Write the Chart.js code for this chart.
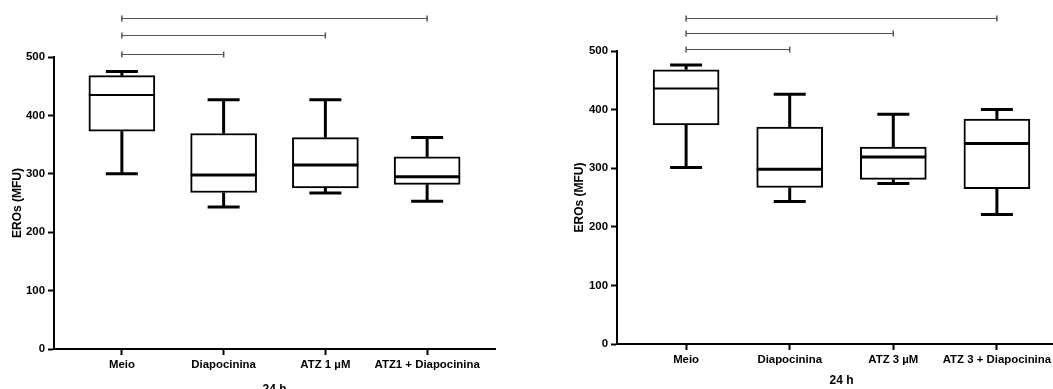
<!DOCTYPE html>
<html>
<head>
<meta charset="utf-8">
<script src="https://cdn.jsdelivr.net/npm/chart.js@4"></script>
<style>
    html, body { margin: 0; padding: 0; background: #fff; overflow: hidden; width: 1053px; height: 389px; }
    canvas { position: absolute; top: 0; }
    #graficoA { left: 0; }
    #graficoB { left: 530px; }
</style>
</head>
<body>
<canvas id="graficoA" width="530" height="400"></canvas>
<canvas id="graficoB" width="540" height="389"></canvas>
<script>
// painel esquerdo (ATZ 1 µM)
const categoriasA = ['Meio', 'Diapocinina', 'ATZ 1 µM', 'ATZ1 + Diapocinina'];
const minA = [300, 243, 267, 253];
const q1A = [373, 268, 276, 282];
const medianaA = [435, 298, 315, 295];
const q3A = [468, 369, 362, 329];
const maxA = [475, 427, 427, 362];
const comparacoesA = [[0, 1], [0, 2], [0, 3]];
const alturasA = [505, 537, 567];

// painel direito (ATZ 3 µM)
const categoriasB = ['Meio', 'Diapocinina', 'ATZ 3 µM', 'ATZ 3 + Diapocinina'];
const minB = [301, 243, 274, 221];
const q1B = [374, 267, 281, 265];
const medianaB = [436, 298, 319, 342];
const q3B = [468, 370, 336, 384];
const maxB = [476, 426, 392, 400];
const comparacoesB = [[0, 1], [0, 2], [0, 3]];
const alturasB = [503, 531, 556];

const ticksY = [0, 100, 200, 300, 400, 500];
const tituloY = 'EROs (MFU)';
const tituloX = '24 h';

const fonte = { family: "'Liberation Sans', Arial, sans-serif", size: 11.4, weight: 'bold' };
const fonteTitulo = { family: "'Liberation Sans', Arial, sans-serif", size: 12, weight: 'bold' };

function linha(ctx, x1, y1, x2, y2) {
    ctx.beginPath();
    ctx.moveTo(x1, y1);
    ctx.lineTo(x2, y2);
    ctx.stroke();
}

// bigodes, medianas e barras de comparação, desenhados com as escalas do gráfico
function pluginCaixas(min, mediana, max, q1, q3, comparacoes, alturas) {
    return {
        id: 'caixas',
        afterDatasetsDraw(chart) {
            const ctx = chart.ctx;
            const x = chart.scales.x;
            const y = chart.scales.y;
            ctx.save();
            ctx.strokeStyle = '#000';
            for (let i = 0; i < mediana.length; i++) {
                const cx = x.getPixelForValue(i);
                ctx.lineWidth = 3;
                linha(ctx, cx, y.getPixelForValue(max[i]), cx, y.getPixelForValue(q3[i]));
                linha(ctx, cx - 16, y.getPixelForValue(max[i]), cx + 16, y.getPixelForValue(max[i]));
                linha(ctx, cx, y.getPixelForValue(q1[i]), cx, y.getPixelForValue(min[i]));
                linha(ctx, cx - 16, y.getPixelForValue(min[i]), cx + 16, y.getPixelForValue(min[i]));
                ctx.lineWidth = i === 0 ? 2 : 3;
                linha(ctx, cx - 33, y.getPixelForValue(mediana[i]), cx + 33, y.getPixelForValue(mediana[i]));
            }
            ctx.strokeStyle = '#555';
            ctx.lineWidth = 1;
            comparacoes.forEach((par, k) => {
                const xa = x.getPixelForValue(par[0]);
                const xb = x.getPixelForValue(par[1]);
                const yy = Math.round(y.getPixelForValue(alturas[k])) + 0.5;
                linha(ctx, xa, yy, xb, yy);
                ctx.lineWidth = 1.5;
                linha(ctx, xa, yy - 3, xa, yy + 3);
                linha(ctx, xb, yy - 3, xb, yy + 3);
                ctx.lineWidth = 1;
            });
            ctx.restore();
        }
    };
}

function criarGrafico(id, categorias, min, mediana, max, q1, q3, comparacoes, alturas, layout) {
    const ctx = document.getElementById(id).getContext('2d');
    return new Chart(ctx, {
        type: 'bar',
        data: {
            datasets: [{
                data: categorias.map((c, i) => ({ x: i, y: [q1[i], q3[i]] })),
                backgroundColor: '#fff',
                borderColor: '#000',
                borderWidth: 2,
                borderSkipped: false,
                barThickness: 66
            }]
        },
        options: {
            responsive: false,
            animation: false,
            devicePixelRatio: 1,
            layout: { padding: layout.padding },
            plugins: { legend: { display: false }, tooltip: { enabled: false } },
            scales: {
                x: {
                    type: 'linear',
                    offset: false,
                    min: -0.667,
                    max: 3.667,
                    afterBuildTicks: axis => { axis.ticks = categorias.map((c, i) => ({ value: i })); },
                    afterFit: axis => { axis.height = layout.alturaX; },
                    ticks: {
                        callback: v => categorias[v],
                        color: '#000',
                        font: fonte,
                        padding: 3,
                        maxRotation: 0,
                        autoSkip: false
                    },
                    grid: { offset: false, drawOnChartArea: false, drawTicks: true, tickLength: 6, tickWidth: 2, tickColor: '#000' },
                    border: { color: '#000', width: 2 },
                    title: { display: true, text: tituloX, color: '#000', font: fonteTitulo, padding: { top: 0, bottom: layout.tituloXBase } }
                },
                y: {
                    min: 0,
                    max: 500,
                    afterBuildTicks: axis => { axis.ticks = ticksY.map(v => ({ value: v })); },
                    afterFit: axis => { axis.width = layout.larguraY; },
                    ticks: { color: '#000', font: fonte, padding: 3 },
                    grid: { drawOnChartArea: false, drawTicks: true, tickLength: 6, tickWidth: 2, tickColor: '#000' },
                    border: { color: '#000', width: 2 },
                    title: { display: true, text: tituloY, color: '#000', font: fonteTitulo, padding: { top: layout.tituloYPad, bottom: 0 } }
                }
            }
        },
        plugins: [pluginCaixas(min, mediana, max, q1, q3, comparacoes, alturas)]
    });
}

criarGrafico('graficoA', categoriasA, minA, medianaA, maxA, q1A, q3A, comparacoesA, alturasA, {
    padding: { top: 57, right: 35, bottom: 0, left: 0 },
    alturaX: 51,
    larguraY: 54,
    tituloXBase: 3,
    tituloYPad: 10
});

criarGrafico('graficoB', categoriasB, minB, medianaB, maxB, q1B, q3B, comparacoesB, alturasB, {
    padding: { top: 51, right: 4, bottom: 0, left: 0 },
    alturaX: 45,
    larguraY: 87,
    tituloXBase: 1,
    tituloYPad: 42
});
</script>
</body>
</html>
